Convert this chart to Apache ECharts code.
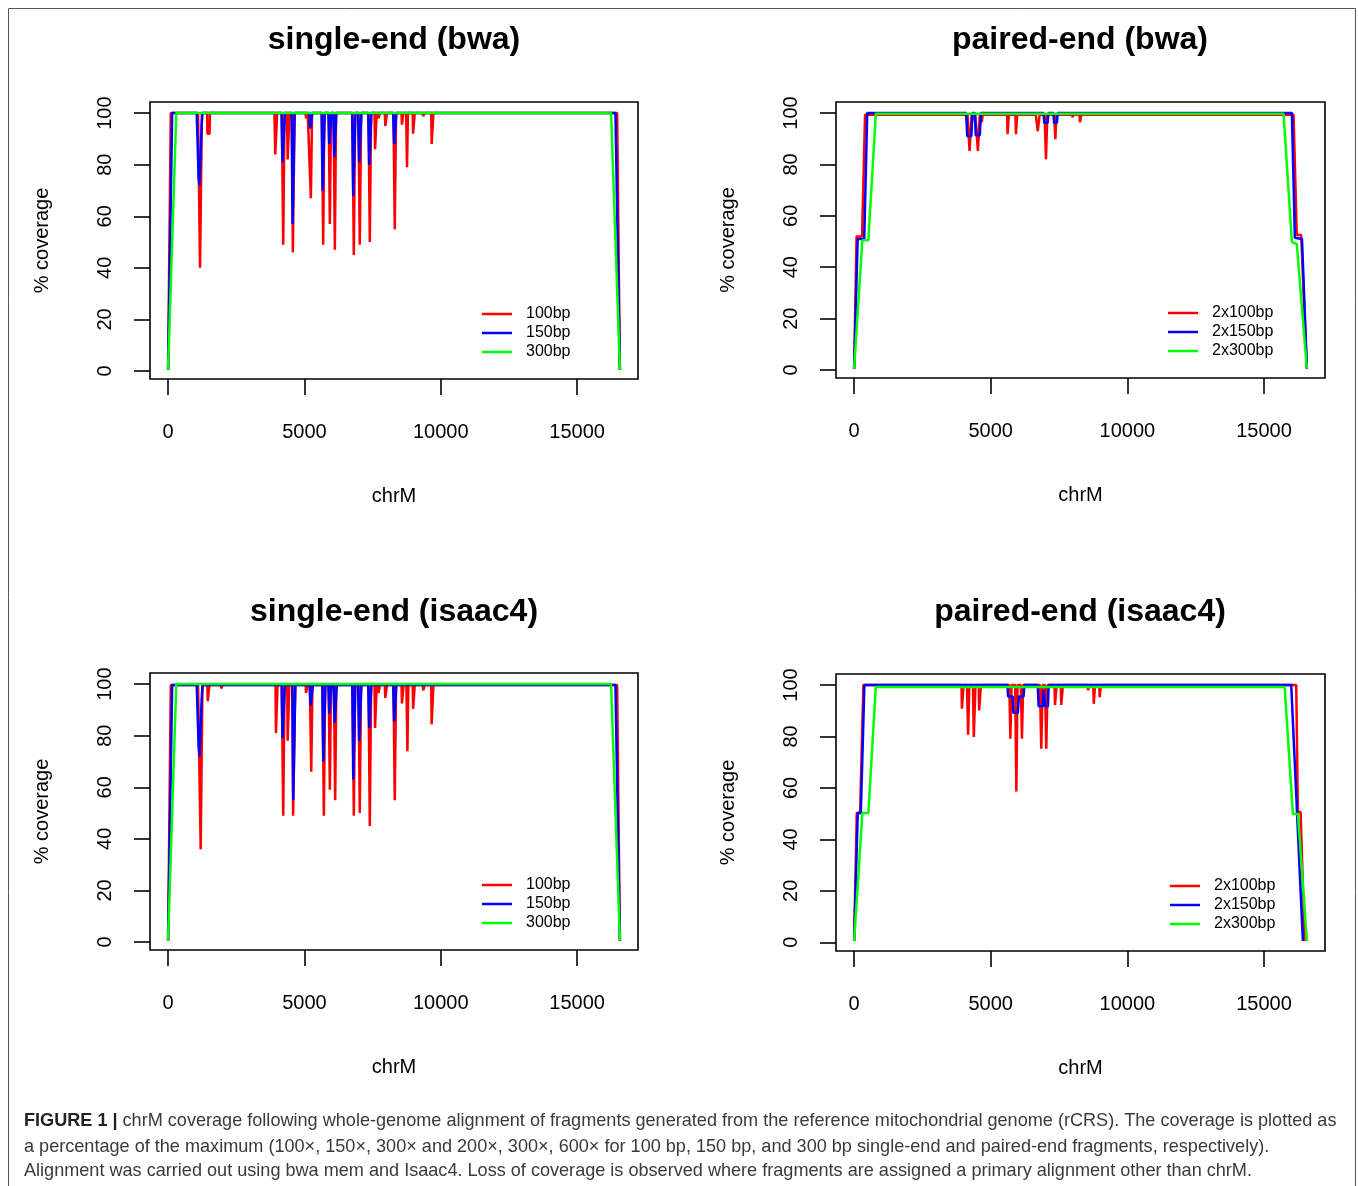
<!DOCTYPE html>
<html>
<head>
<meta charset="utf-8">
<script src="https://cdn.jsdelivr.net/npm/echarts@6/dist/echarts.min.js"></script>
<style>
html,body{margin:0;padding:0;background:#fff;}
#chart{width:1358px;height:1186px;}
</style>
</head>
<body>
<div id="chart"></div>
<script>
// ---------------- DATA ----------------
const panelTitles = ['single-end (bwa)', 'paired-end (bwa)', 'single-end (isaac4)', 'paired-end (isaac4)'];
const seNames = ['100bp', '150bp', '300bp'];
const peNames = ['2x100bp', '2x150bp', '2x300bp'];
const xTicks = [0, 5000, 10000, 15000];
const yTicks = [0, 20, 40, 60, 80, 100];
const xLabel = 'chrM';
const yLabel = '% coverage';
const captionLines = [
  '{b|FIGURE 1 |} chrM coverage following whole-genome alignment of fragments generated from the reference mitochondrial genome (rCRS). The coverage is plotted as',
  'a percentage of the maximum (100\u00d7, 150\u00d7, 300\u00d7 and 200\u00d7, 300\u00d7, 600\u00d7 for 100 bp, 150 bp, and 300 bp single-end and paired-end fragments, respectively).',
  'Alignment was carried out using bwa mem and Isaac4. Loss of coverage is observed where fragments are assigned a primary alignment other than chrM.'
];

// single-end (bwa)
const seBwa_100 = [[0,0.5],[100,100],
  [1100,100],[1172,40],[1240,100],
  [1430,100],[1445,92],[1520,92],[1535,100],
  [3900,100],[3930,84],[3975,84],[4000,100],
  [4170,100],[4222,49],[4270,100],
  [4360,100],[4385,82],[4430,82],[4450,100],
  [4540,100],[4575,46],[4610,46],[4640,100],
  [5040,100],[5060,98],[5100,98],[5120,100],
  [5190,100],[5236,67],[5280,100],
  [5640,100],[5688,49],[5730,100],
  [5890,100],[5932,57],[5975,100],
  [6070,100],[6115,47],[6160,100],
  [6760,100],[6811,45],[6860,100],
  [6980,100],[7030,49],[7080,100],
  [7350,100],[7397,50],[7445,100],
  [7570,100],[7590,86],[7630,86],[7650,100],
  [7710,100],[7720,98],[7760,98],[7770,100],
  [7950,100],[7965,95],[8010,95],[8025,100],
  [8265,100],[8312,55],[8360,100],
  [8560,100],[8575,95.5],[8610,95.5],[8625,100],
  [8730,100],[8762,79],[8795,100],
  [8970,100],[8985,92],[9030,92],[9045,100],
  [9340,100],[9355,98.8],[9395,98.8],[9410,100],
  [9650,100],[9665,88],[9715,88],[9730,100],
  [16466,100],[16569,0.5]];
const seBwa_150 = [[0,0.5],[150,100],
  [1050,100],[1120,75],[1150,72],[1190,72],[1230,95],[1260,100],
  [4160,100],[4195,81],[4250,81],[4285,100],
  [4530,100],[4565,57],[4600,57],[4640,100],
  [5180,100],[5210,94],[5260,94],[5290,100],
  [5630,100],[5665,70],[5710,70],[5745,100],
  [5880,100],[5910,88],[5955,88],[5985,100],
  [6060,100],[6095,83],[6135,83],[6170,100],
  [6750,100],[6790,68],[6830,68],[6870,100],
  [6970,100],[7005,81],[7055,81],[7090,100],
  [7340,100],[7375,80],[7420,80],[7455,100],
  [8255,100],[8290,88],[8335,88],[8370,100],
  [16405,100],[16569,0.5]];
const seBwa_300 = [[0,0.5],[300,100],[16245,100],[16569,0.5]];

// paired-end (bwa)
const peBwa_100 = [[0,0.5],[90,52],[290,52],[400,99.3],
  [4150,99.3],[4225,85.3],[4300,99.3],
  [4340,99.3],[4350,97.5],[4425,97.5],[4435,99.3],
  [4460,99.3],[4530,85.3],[4600,99.3],
  [4660,99.3],[4670,96.5],[4700,96.5],[4710,99.3],
  [5600,99.3],[5615,91.8],[5645,91.8],[5660,99.3],
  [5905,99.3],[5920,91.8],[5950,91.8],[5965,99.3],
  [6650,99.3],[6720,93],[6770,92.5],[6790,99.3],
  [6970,99.3],[7021,82],[7070,99.3],
  [7320,99.3],[7363,89.8],[7405,99.3],
  [7980,99.3],[7990,98.3],[8005,98.3],[8015,99.3],
  [8250,99.3],[8265,96.4],[8295,96.4],[8310,99.3],
  [8530,99.3],[8540,98.7],[8555,98.7],[8565,99.3],
  [16080,99.3],[16200,52.5],[16360,52.5],[16569,0.5]];
const peBwa_150 = [[0,0.5],[130,51],[370,51],[480,100],
  [4100,100],[4140,91],[4290,91],[4330,100],
  [4420,100],[4450,91.4],[4600,91.4],[4640,100],
  [6930,100],[6960,96.2],[7080,96.2],[7110,100],
  [7290,100],[7320,96.2],[7420,96.2],[7450,100],
  [16020,100],[16130,51.5],[16390,51],[16569,0.5]];
const peBwa_300 = [[0,0.5],[300,50.5],[520,50.5],[795,99.7],[15716,99.7],[16020,49.9],[16200,49],[16569,0.5]];

// single-end (isaac4)
const seIsaac_100 = [[0,0.5],[100,99.6],
  [1100,99.6],[1196,36],[1260,99.6],
  [1440,99.6],[1455,93.4],[1500,93.4],[1515,99.6],
  [1940,99.6],[1950,98.3],[1985,98.3],[1995,99.6],
  [3940,99.6],[3955,81],[4000,81],[4015,99.6],
  [4170,99.6],[4222,49],[4270,99.6],
  [4370,99.6],[4385,78],[4430,78],[4445,99.6],
  [4560,99.6],[4585,49],[4640,49],[4665,99.6],
  [5045,99.6],[5060,96.6],[5095,96.6],[5110,99.6],
  [5200,99.6],[5249,66],[5295,99.6],
  [5665,99.6],[5712,49],[5760,99.6],
  [5890,99.6],[5932,59],[5975,99.6],
  [6080,99.6],[6127,55],[6170,99.6],
  [6765,99.6],[6811,49],[6860,99.6],
  [6985,99.6],[7030,50],[7075,99.6],
  [7350,99.6],[7397,45],[7445,99.6],
  [7570,99.6],[7590,83],[7630,83],[7650,99.6],
  [7710,99.6],[7720,96.6],[7760,96.6],[7770,99.6],
  [7950,99.6],[7965,94.6],[8010,94.6],[8025,99.6],
  [8265,99.6],[8312,55],[8360,99.6],
  [8560,99.6],[8575,92.5],[8620,92.5],[8635,99.6],
  [8740,99.6],[8776,74],[8810,99.6],
  [8970,99.6],[8985,90.4],[9030,90.4],[9045,99.6],
  [9340,99.6],[9355,97.6],[9395,97.6],[9410,99.6],
  [9650,99.6],[9665,84.4],[9715,84.4],[9730,99.6],
  [16466,99.6],[16569,0.5]];
const seIsaac_150 = [[0,0.5],[150,99.6],
  [1050,99.6],[1120,76],[1150,72],[1195,72],[1235,95],[1265,99.6],
  [4165,99.6],[4195,79],[4250,79],[4280,99.6],
  [4555,99.6],[4590,55],[4630,55],[4665,99.6],
  [5190,99.6],[5225,91.7],[5275,91.7],[5305,99.6],
  [5655,99.6],[5690,70],[5735,70],[5770,99.6],
  [5880,99.6],[5910,88.5],[5955,88.5],[5985,99.6],
  [6070,99.6],[6105,85],[6150,85],[6185,99.6],
  [6755,99.6],[6790,63],[6830,63],[6865,99.6],
  [6970,99.6],[7005,78],[7055,78],[7090,99.6],
  [7340,99.6],[7375,83],[7420,83],[7455,99.6],
  [8255,99.6],[8290,85.5],[8335,85.5],[8370,99.6],
  [16405,99.6],[16569,0.5]];
const seIsaac_300 = [[0,0.5],[300,100],[16245,100],[16569,0.5]];

// paired-end (isaac4)
const peIsaac_100 = [[0,0.5],[98,50.3],[219,50.3],[340,100],
  [3930,100],[3945,90.8],[3990,90.8],[4005,100],
  [4130,100],[4172,80.7],[4215,100],
  [4350,100],[4380,79.8],[4410,79.8],[4440,100],
  [4560,100],[4575,90.1],[4625,90.1],[4640,100],
  [5680,100],[5718,79.1],[5760,100],
  [5895,100],[5937,58.6],[5980,100],
  [6100,100],[6143,79.1],[6185,100],
  [6800,100],[6849,75.2],[6900,100],
  [6985,100],[7032,75.2],[7080,100],
  [7335,100],[7350,92.3],[7395,92.3],[7410,100],
  [7565,100],[7580,92.3],[7625,92.3],[7640,100],
  [8545,100],[8560,98],[8595,98],[8610,100],
  [8750,100],[8770,92.7],[8800,92.7],[8815,100],
  [8970,100],[8985,95.3],[9020,95.3],[9035,100],
  [16179,100],[16240,50.6],[16339,50.6],[16485,0.5]];
const peIsaac_150 = [[0,0.5],[134,50.3],[245,50.3],[376,100],
  [5610,100],[5635,95.6],[5800,95.6],[5830,89.2],[5990,89.2],[6030,95.6],[6200,95.6],[6230,100],
  [6720,100],[6752,91.8],[6900,91.8],[6940,98],[6980,91.8],[7092,91.8],[7120,100],
  [15996,100],[16423,0.5]];
const peIsaac_300 = [[0,0.5],[303,50.3],[522,50.3],[792,99.2],[15755,99.2],[16058,49.9],[16241,49.9],[16569,0.5]];

// ---------------- CHART ----------------
const colors = ['#ff0000', '#0000ff', '#00ff00'];
const FONT = 'Liberation Sans, Arial, Helvetica, sans-serif';
const grids = [
  {left: 150, top: 102, width: 488, height: 277},
  {left: 836, top: 102, width: 489, height: 276},
  {left: 150, top: 673, width: 488, height: 277},
  {left: 836, top: 674, width: 489, height: 277}
];
const yRanges = [[-3.1, 104.3], [-3.1, 104.3], [-3.1, 104.3], [-3.4, 104.3]];
const panelSeries = [
  [seBwa_100, seBwa_150, seBwa_300],
  [peBwa_100, peBwa_150, peBwa_300],
  [seIsaac_100, seIsaac_150, seIsaac_300],
  [peIsaac_100, peIsaac_150, peIsaac_300]
];
const panelNames = [seNames, peNames, seNames, peNames];
const legendPos = [[482, 304.5], [1168, 303.5], [482, 875.5], [1170, 876.5]];

const option = {
  animation: false,
  backgroundColor: '#fff',
  textStyle: {fontFamily: FONT},
  grid: grids.map(g => Object.assign({show: true, borderColor: '#000', borderWidth: 1.6, backgroundColor: 'transparent', containLabel: false}, g)),
  xAxis: grids.map((g, i) => ({
    type: 'value', gridIndex: i, min: -663, max: 17232,
    name: xLabel, nameLocation: 'middle', nameGap: 117,
    nameTextStyle: {fontSize: 20, color: '#000', fontFamily: FONT, verticalAlign: 'middle', align: 'center'},
    axisLine: {show: false, onZero: false},
    axisTick: {show: true, inside: false, length: 16, lineStyle: {color: '#000', width: 1.6}, customValues: xTicks},
    axisLabel: {show: true, customValues: xTicks, margin: 43, fontSize: 20, color: '#000', fontFamily: FONT,
      formatter: v => String(v)},
    splitLine: {show: false}
  })),
  yAxis: grids.map((g, i) => ({
    type: 'value', gridIndex: i, min: yRanges[i][0], max: yRanges[i][1],
    name: yLabel, nameLocation: 'middle', nameGap: 108, nameRotate: 90,
    nameTextStyle: {fontSize: 20, color: '#000', fontFamily: FONT, verticalAlign: 'middle', align: 'center'},
    axisLine: {show: false, onZero: false},
    axisTick: {show: true, inside: false, length: 16, lineStyle: {color: '#000', width: 1.6}, customValues: yTicks},
    axisLabel: {show: true, customValues: yTicks, rotate: 90, margin: 45, fontSize: 20, color: '#000', fontFamily: FONT, align: 'center', verticalAlign: 'middle',
      formatter: v => String(v)},
    splitLine: {show: false}
  })),
  legend: legendPos.map((p, i) => ({
    data: panelNames[i], orient: 'vertical', left: p[0], top: p[1],
    icon: 'rect', itemWidth: 30, itemHeight: 2.5, itemGap: 0, padding: 0,
    selectedMode: false,
    textStyle: {fontSize: 16, color: '#000', fontFamily: FONT, lineHeight: 19, padding: [0, 0, 0, 9]}
  })),
  series: [],
  graphic: []
};

panelSeries.forEach((arrs, p) => {
  arrs.forEach((d, k) => {
    option.series.push({
      type: 'line', name: panelNames[p][k], xAxisIndex: p, yAxisIndex: p,
      data: d, showSymbol: false, symbol: 'none',
      lineStyle: {color: colors[k], width: 2.5},
      itemStyle: {color: colors[k]},
      z: 2 + k
    });
  });
});

const titleCenters = [[394, 40], [1080, 40], [394, 612], [1080, 612]];
option.graphic.push({type: 'rect', silent: true, shape: {x: 8.5, y: 8.5, width: 1347, height: 1200}, style: {fill: 'none', stroke: '#555', lineWidth: 1}});
titleCenters.forEach((c, i) => {
  option.graphic.push({type: 'text', silent: true, style: {
    text: panelTitles[i], x: c[0], y: c[1], textAlign: 'center', textVerticalAlign: 'middle',
    fontSize: 32, fontWeight: 'bold', fontFamily: FONT, fill: '#000'}});
});
const capY = [1121, 1147, 1171];
captionLines.forEach((t, i) => {
  option.graphic.push({type: 'text', silent: true, style: {
    text: t, x: 24, y: capY[i], textAlign: 'left', textVerticalAlign: 'middle',
    fontSize: 18.1, fontFamily: FONT, fill: '#3a3a3a',
    rich: {b: {fontSize: 18.1, fontWeight: 'bold', fontFamily: FONT, fill: '#222'}}}});
});

const chart = echarts.init(document.getElementById('chart'), null, {renderer: 'canvas'});
chart.setOption(option);
</script>
</body>
</html>
